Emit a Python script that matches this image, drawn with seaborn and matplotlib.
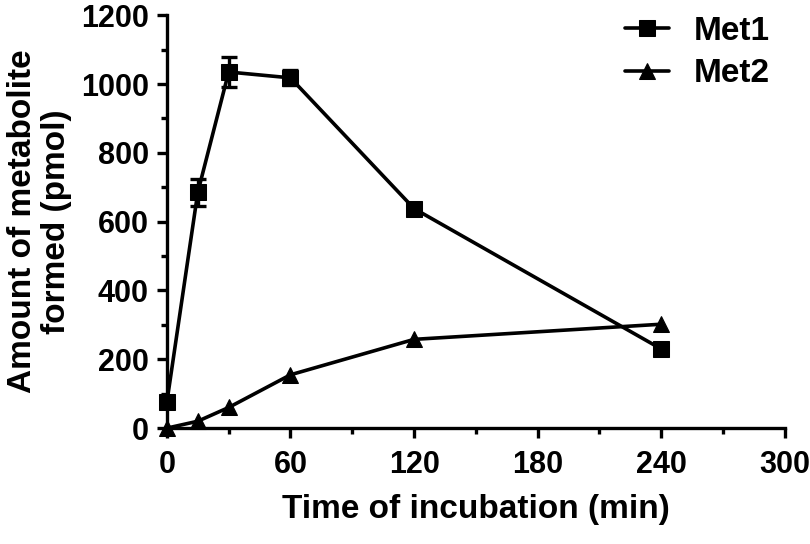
import pandas as pd
import seaborn as sns
import matplotlib.pyplot as plt
from matplotlib.ticker import MultipleLocator

# Values
time_min = [0, 15, 30, 60, 120, 240]
met1 = [75, 685, 1035, 1018, 638, 230]
met1_err = [15, 38, 45, 22, 12, 10]
met2 = [0, 20, 60, 155, 258, 302]

sns.set_theme(style='ticks')
plt.rcParams['font.family'] = ['Liberation Sans', 'DejaVu Sans']
plt.rcParams['font.weight'] = 'bold'
plt.rcParams.update({'text.color': 'black', 'axes.labelcolor': 'black',
                     'xtick.color': 'black', 'ytick.color': 'black',
                     'axes.edgecolor': 'black'})

df = pd.DataFrame({'time': time_min * 2,
                   'amount': met1 + met2,
                   'series': ['Met1'] * 6 + ['Met2'] * 6})

fig = plt.figure(figsize=(8.1, 5.44), dpi=100)
ax = fig.add_axes([0.206, 0.213, 0.763, 0.759])

ax.errorbar(time_min, met1, yerr=met1_err, fmt='none', ecolor='black',
            elinewidth=2.4, capsize=6, capthick=2.4, zorder=2)
sns.lineplot(data=df, x='time', y='amount', style='series',
             markers={'Met1': 's', 'Met2': '^'}, dashes=False,
             color='black', linewidth=2.6, markersize=12,
             markeredgecolor='black', ax=ax, zorder=3, legend=True)

ax.set_xlim(0, 300)
ax.set_ylim(0, 1200)
ax.set_xticks([0, 60, 120, 180, 240, 300])
ax.set_yticks(range(0, 1201, 200))
ax.xaxis.set_minor_locator(MultipleLocator(30))
ax.yaxis.set_minor_locator(MultipleLocator(100))
ax.margins(0)

for s in ['top', 'right']:
    ax.spines[s].set_visible(False)
for s in ['left', 'bottom']:
    ax.spines[s].set_linewidth(2.4)
ax.tick_params(which='major', length=7, width=2.4, labelsize=22, colors='black')
ax.tick_params(axis='x', which='major', pad=9)
ax.tick_params(axis='y', which='major', pad=6)
ax.tick_params(which='minor', length=4.5, width=2.4, colors='black')
for lbl in ax.get_xticklabels() + ax.get_yticklabels():
    lbl.set_fontweight('bold')
for line in ax.lines:
    line.set_clip_on(False)

ax.set_xlabel('Time of incubation (min)', fontsize=24, fontweight='bold', labelpad=10)
ax.set_ylabel('Amount of metabolite\nformed (pmol)', fontsize=24, fontweight='bold',
              labelpad=6, linespacing=1.15)

leg = ax.legend(loc='upper right', bbox_to_anchor=(1.024, 1.072), frameon=False,
                prop={'size': 24, 'weight': 'bold'}, handlelength=1.3,
                handletextpad=0.75, labelspacing=0.35)

fig.savefig('out.png', dpi=100)
